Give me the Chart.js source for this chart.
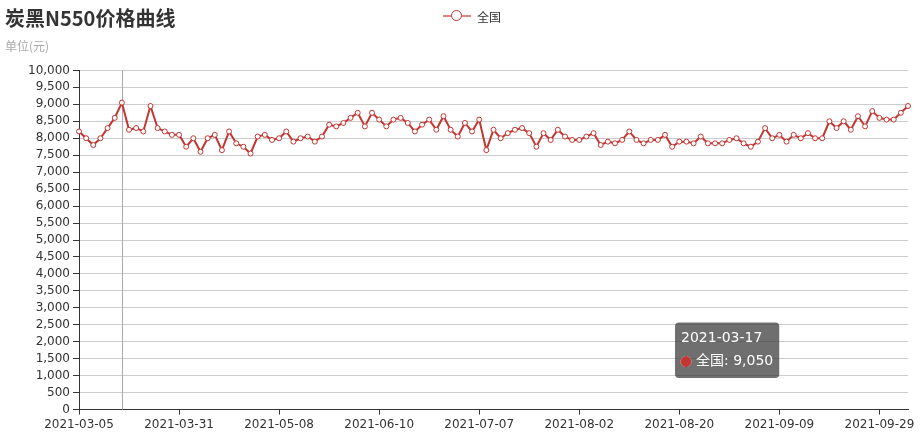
<!DOCTYPE html>
<html>
<head>
<meta charset="utf-8">
<script src="https://cdn.jsdelivr.net/npm/chart.js@4.4.1/dist/chart.umd.min.js"></script>
<style>
  body { margin: 0; background: #fff; }
  #wrap { position: relative; width: 920px; height: 438px; }
  #legend { position: absolute; top: 7px; left: 443px; height: 18px; display: flex; align-items: center;
            font: 12px "Noto Sans CJK SC", sans-serif; color: #333; }
  #legend .icon { position: relative; width: 28px; height: 14px; margin-right: 6px; }
  #legend .icon .ln { position: absolute; left: 0; right: 0; top: 6px; height: 2px; background: #c23531; opacity: 0.6; }
  #legend .icon .dot { position: absolute; left: 8px; top: 1px; width: 9px; height: 9px; border: 1.5px solid #c23531;
                       border-radius: 50%; background: #fff; }
</style>
</head>
<body>
<div id="wrap">
  <canvas id="priceChart" width="920" height="438"></canvas>
  <div id="legend"><span class="icon"><span class="ln"></span><span class="dot"></span></span><span>全国</span></div>
</div>
<script>
// categories (trading dates)
const dates = [
  '2021-03-05', '2021-03-08', '2021-03-09', '2021-03-11', '2021-03-12', '2021-03-15', '2021-03-17',
  '2021-03-18', '2021-03-19', '2021-03-22', '2021-03-23', '2021-03-25', '2021-03-26', '2021-03-29', '2021-03-31',
  '2021-04-01', '2021-04-06', '2021-04-08', '2021-04-12', '2021-04-14', '2021-04-16', '2021-04-19',
  '2021-04-21', '2021-04-23', '2021-04-26', '2021-04-28', '2021-04-30', '2021-05-06', '2021-05-08',
  '2021-05-11', '2021-05-13', '2021-05-14', '2021-05-17', '2021-05-19', '2021-05-21', '2021-05-24',
  '2021-05-26', '2021-05-28', '2021-05-31', '2021-06-02', '2021-06-04', '2021-06-08', '2021-06-10',
  '2021-06-11', '2021-06-15', '2021-06-16', '2021-06-18', '2021-06-21', '2021-06-23', '2021-06-24',
  '2021-06-25', '2021-06-28', '2021-06-29', '2021-06-30', '2021-07-02', '2021-07-05', '2021-07-07',
  '2021-07-08', '2021-07-09', '2021-07-12', '2021-07-13', '2021-07-15', '2021-07-16', '2021-07-19',
  '2021-07-20', '2021-07-22', '2021-07-23', '2021-07-26', '2021-07-28', '2021-07-30', '2021-08-02',
  '2021-08-03', '2021-08-04', '2021-08-05', '2021-08-06', '2021-08-09', '2021-08-10', '2021-08-11',
  '2021-08-12', '2021-08-13', '2021-08-16', '2021-08-17', '2021-08-18', '2021-08-19', '2021-08-20',
  '2021-08-23', '2021-08-24', '2021-08-25', '2021-08-26', '2021-08-27', '2021-08-30', '2021-08-31',
  '2021-09-01', '2021-09-02', '2021-09-03', '2021-09-06', '2021-09-07', '2021-09-08', '2021-09-09',
  '2021-09-10', '2021-09-13', '2021-09-14', '2021-09-15', '2021-09-16', '2021-09-17', '2021-09-18',
  '2021-09-22', '2021-09-23', '2021-09-24', '2021-09-26', '2021-09-27', '2021-09-28', '2021-09-29',
  '2021-09-30', '2021-10-08', '2021-10-11', '2021-10-12'
];

// 全国 price, yuan
const prices = [
  8200, 8000, 7800, 8000, 8300, 8600, 9050,
  8250, 8300, 8200, 8950, 8300, 8200, 8100, 8100,
  7750, 8000, 7600, 8000, 8100, 7650, 8200,
  7850, 7750, 7550, 8050, 8100, 7950, 8000,
  8200, 7900, 8000, 8050, 7900, 8050, 8400,
  8350, 8450, 8600, 8750, 8350, 8750, 8550,
  8350, 8550, 8600, 8450, 8200, 8400, 8550,
  8250, 8650, 8250, 8050, 8450, 8200, 8550,
  7650, 8250, 8000, 8150, 8250, 8300, 8150,
  7750, 8150, 7950, 8250, 8050, 7950, 7950,
  8050, 8150, 7800, 7900, 7850, 7950, 8200,
  7950, 7850, 7950, 7950, 8100, 7750, 7900,
  7900, 7850, 8050, 7850, 7850, 7850, 7950,
  8000, 7850, 7750, 7900, 8300, 8000, 8100,
  7900, 8100, 8000, 8150, 8000, 8000, 8500,
  8300, 8500, 8250, 8650, 8350, 8800, 8600,
  8550, 8550, 8750, 8950
];

// x-axis labels that are shown
const tickLabels = ['2021-03-05', '2021-03-31', '2021-05-08', '2021-06-10', '2021-07-07',
                    '2021-08-02', '2021-08-20', '2021-09-09', '2021-09-29'];

const tipDate = '2021-03-17';
const tipIndex = dates.indexOf(tipDate);

const red = '#c23531';
const numFont = '"DejaVu Sans", "Noto Sans CJK SC", sans-serif';
const cjkFont = '"Noto Sans CJK SC", sans-serif';

// fixed tooltip spot, like the screenshot
Chart.Tooltip.positioners.fixedBox = function () {
  const a = this.chart.chartArea;
  return { x: a.left + 600, y: a.top + 252 };
};

// vertical axis pointer at the tooltip category
const axisPointer = {
  id: 'axisPointer',
  beforeDatasetsDraw(chart) {
    const { ctx, chartArea, scales } = chart;
    const x = Math.round(scales.x.getPixelForValue(tipIndex)) + 0.5;
    ctx.save();
    ctx.strokeStyle = '#aaa';
    ctx.lineWidth = 1;
    ctx.beginPath();
    ctx.moveTo(x, chartArea.top);
    ctx.lineTo(x, chartArea.bottom);
    ctx.stroke();
    ctx.restore();
  }
};

const ctx = document.getElementById('priceChart').getContext('2d');
const priceChart = new Chart(ctx, {
  type: 'line',
  data: {
    labels: dates,
    datasets: [{
      label: '全国',
      data: prices,
      borderColor: red,
      borderWidth: 2,
      tension: 0,
      pointRadius: 2.5,
      pointBorderWidth: 1,
      pointBackgroundColor: '#fff',
      pointBorderColor: red,
      pointHoverRadius: 2.5
    }]
  },
  options: {
    responsive: false,
    animation: false,
    events: [],
    layout: { padding: { left: 5, right: 12, top: 0, bottom: 3 } },
    scales: {
      x: {
        offset: false,
        border: { color: '#333' },
        grid: {
          drawOnChartArea: false,
          tickLength: 5,
          color: c => tickLabels.includes(dates[c.index]) ? '#333' : 'rgba(0,0,0,0)'
        },
        ticks: {
          autoSkip: false,
          maxRotation: 0,
          minRotation: 0,
          padding: 3,
          color: '#333',
          font: { family: numFont, size: 12 },
          callback: function (v, i) {
            const d = dates[i];
            return tickLabels.includes(d) ? d : '';
          }
        }
      },
      y: {
        min: 0,
        max: 10000,
        border: { color: '#333' },
        grid: { color: '#ccc', tickColor: '#333', tickLength: 6 },
        ticks: {
          stepSize: 500,
          autoSkip: false,
          padding: 3,
          color: '#333',
          font: { family: numFont, size: 12 },
          callback: v => v.toLocaleString('en-US')
        },
        afterFit(scale) { scale.width = 74; }
      }
    },
    plugins: {
      legend: { display: false },
      title: {
        display: true,
        text: '炭黑N550价格曲线',
        align: 'start',
        color: '#333',
        font: { family: cjkFont, size: 20, weight: 'bold' },
        padding: { top: 6, bottom: 0 }
      },
      subtitle: {
        display: true,
        text: '单位(元)',
        align: 'start',
        color: '#aaa',
        font: { family: cjkFont, size: 12 },
        padding: { top: 9, bottom: 17 }
      },
      tooltip: {
        position: 'fixedBox',
        xAlign: 'left',
        yAlign: 'top',
        caretSize: 0,
        caretPadding: 0,
        cornerRadius: 4,
        backgroundColor: 'rgba(50,50,50,0.7)',
        padding: { top: 8, bottom: 8, left: 6, right: 6 },
        titleColor: '#fff',
        bodyColor: '#fff',
        titleFont: { family: numFont, size: 14, weight: 'normal' },
        bodyFont: { family: numFont, size: 14 },
        titleMarginBottom: 6,
        boxWidth: 10,
        boxHeight: 10,
        boxPadding: 3,
        usePointStyle: true,
        callbacks: {
          label: item => item.dataset.label + ': ' + item.parsed.y.toLocaleString('en-US'),
          labelColor: () => ({ borderColor: red, backgroundColor: red }),
          labelPointStyle: () => ({ pointStyle: 'circle', rotation: 0 })
        }
      }
    }
  },
  plugins: [axisPointer]
});

priceChart.tooltip.setActiveElements([{ datasetIndex: 0, index: tipIndex }], { x: 0, y: 0 });
priceChart.update();
</script>
</body>
</html>
